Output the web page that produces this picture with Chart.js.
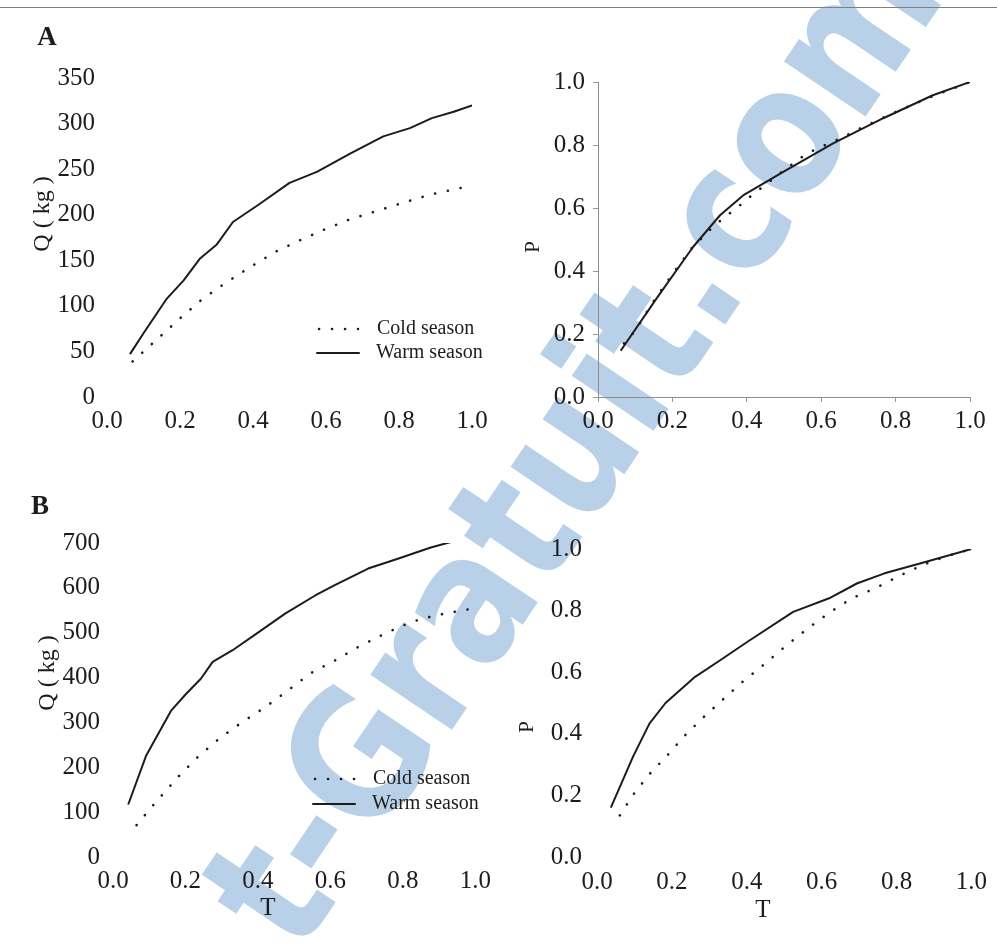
<!DOCTYPE html>
<html>
<head>
<meta charset="utf-8">
<script src="https://cdn.jsdelivr.net/npm/chart.js@4.4.1/dist/chart.umd.min.js"></script>
<style>
  body { margin: 0; background: #fff; }
  #wrap { position: relative; width: 997px; height: 943px; overflow: hidden; }
  #rule { position: absolute; left: 0; top: 7px; width: 997px; border-top: 1.5px solid #808080; }
  canvas { position: absolute; }
</style>
</head>
<body>
<div id="wrap">
  <canvas id="wm" width="997" height="943" style="left:0;top:0"></canvas>
  <div id="rule"></div>
  <canvas id="aQ" width="500" height="470" style="left:0;top:0"></canvas>
  <canvas id="aP" width="497" height="470" style="left:500px;top:0"></canvas>
  <canvas id="bQ" width="500" height="473" style="left:0;top:470px"></canvas>
  <canvas id="bP" width="497" height="473" style="left:500px;top:470px"></canvas>
</div>
<script>
// ---- data ----
// A, quantity Q (kg) vs T
const aQWarmT = [0.063, 0.10, 0.164, 0.21, 0.255, 0.30, 0.345, 0.419, 0.50, 0.575, 0.666, 0.757, 0.83, 0.89, 0.95, 1.0];
const aQWarm  = [47, 70, 108, 128, 152, 167, 192, 212, 235, 247, 267, 286, 295, 306, 313, 320];
const aQColdT = [0.07, 0.15, 0.205, 0.263, 0.328, 0.394, 0.46, 0.529, 0.597, 0.666, 0.739, 0.81, 0.885, 1.0];
const aQCold  = [39, 68, 88, 108, 126, 143, 159, 172, 184, 195, 204, 213, 222, 232];
// A, proportion P vs T
const aPWarmT = [0.061, 0.158, 0.256, 0.328, 0.39, 0.498, 0.632, 0.767, 0.9, 1.0];
const aPWarm  = [0.147, 0.314, 0.477, 0.577, 0.64, 0.715, 0.805, 0.885, 0.958, 1.0];
const aPColdT = [0.07, 0.1, 0.15, 0.2, 0.25, 0.3, 0.325, 0.354, 0.384, 0.413, 0.498, 0.527, 0.554, 0.583, 0.619, 0.65, 0.7, 0.8, 0.9, 1.0];
const aPCold  = [0.17, 0.21, 0.305, 0.39, 0.47, 0.53, 0.556, 0.583, 0.611, 0.64, 0.718, 0.743, 0.767, 0.785, 0.804, 0.82, 0.85, 0.905, 0.955, 1.0];
// B, quantity Q (kg) vs T
const bQWarmT = [0.042, 0.092, 0.161, 0.202, 0.243, 0.275, 0.33, 0.403, 0.476, 0.558, 0.612, 0.704, 0.786, 0.877, 1.0];
const bQWarm  = [117, 227, 327, 364, 398, 435, 461, 502, 543, 583, 606, 643, 665, 690, 717];
const bQColdT = [0.065, 0.11, 0.179, 0.234, 0.293, 0.357, 0.42, 0.484, 0.544, 0.612, 0.676, 0.75, 0.823, 0.892, 1.0];
const bQCold  = [71, 115, 178, 223, 264, 301, 334, 372, 409, 438, 468, 498, 524, 539, 555];
// B, proportion P vs T
const bPWarmT = [0.037, 0.096, 0.14, 0.183, 0.262, 0.323, 0.402, 0.524, 0.62, 0.694, 0.768, 0.865, 1.0];
const bPWarm  = [0.16, 0.325, 0.433, 0.5, 0.585, 0.634, 0.699, 0.796, 0.84, 0.888, 0.921, 0.954, 1.0];
const bPColdT = [0.061, 0.081, 0.1, 0.14, 0.188, 0.231, 0.281, 0.334, 0.389, 0.444, 0.502, 0.563, 0.624, 0.681, 0.742, 0.803, 0.869, 0.93, 1.0];
const bPCold  = [0.135, 0.173, 0.208, 0.269, 0.33, 0.39, 0.45, 0.509, 0.569, 0.623, 0.683, 0.742, 0.796, 0.84, 0.872, 0.91, 0.948, 0.975, 1.0];

const seriesNames = ['Cold season', 'Warm season'];
const tTicks = [0, 0.2, 0.4, 0.6, 0.8, 1.0];
const qTicksA = [0, 50, 100, 150, 200, 250, 300, 350];
const qTicksB = [0, 100, 200, 300, 400, 500, 600, 700];
const pTicks = [0, 0.2, 0.4, 0.6, 0.8, 1.0];

const INK = '#1c1c1c';
const SERIF = '"Liberation Serif", "Times New Roman", serif';
const DOTS = [0.1, 12.9];

// watermark of the scanned page, behind the charts
(function () {
  const ctx = document.getElementById('wm').getContext('2d');
  ctx.save();
  ctx.translate(298, 958);
  ctx.rotate(-56 * Math.PI / 180);
  ctx.scale(0.85, 1);
  ctx.font = 'bold 180px "DejaVu Sans", sans-serif';
  ctx.fillStyle = '#b9d0e9';
  ctx.textBaseline = 'alphabetic';
  ctx.fillText('t-Gratuit.com', 0, 0);
  ctx.restore();
})();

const pts = (xs, ys) => xs.map((x, i) => ({ x: x, y: ys[i] }));

// free text + hand-made legend drawn on top of each chart
const extras = {
  id: 'extras',
  afterDraw(chart, args, o) {
    const ctx = chart.ctx;
    ctx.save();
    (o.texts || []).forEach(t => {
      ctx.save();
      ctx.translate(t.x, t.y);
      if (t.rot) ctx.rotate(t.rot);
      ctx.font = t.font;
      ctx.fillStyle = INK;
      ctx.textAlign = 'center';
      ctx.textBaseline = 'middle';
      ctx.fillText(t.text, 0, 0);
      ctx.restore();
    });
    (o.legend || []).forEach((l, i) => {
      ctx.beginPath();
      ctx.strokeStyle = INK;
      ctx.lineCap = 'round';
      ctx.lineWidth = i === 0 ? 2.6 : 2;
      ctx.setLineDash(i === 0 ? DOTS : []);
      ctx.moveTo(l.x1, l.y);
      ctx.lineTo(l.x2, l.y);
      ctx.stroke();
      ctx.setLineDash([]);
      ctx.font = '20px ' + SERIF;
      ctx.fillStyle = INK;
      ctx.textAlign = 'left';
      ctx.textBaseline = 'middle';
      ctx.fillText(seriesNames[i], l.tx, l.y);
    });
    ctx.restore();
  }
};

function panel(id, p) {
  const cv = document.getElementById(id);
  const axisGrid = p.axes
    ? { display: true, drawOnChartArea: false, drawTicks: true, tickLength: 5, color: '#9a9a9a' }
    : { display: false, drawTicks: false };
  const axisBorder = p.axes ? { display: true, color: '#8c8c8c', width: 1 } : { display: false };
  new Chart(cv, {
    type: 'scatter',
    data: {
      datasets: [
        { label: seriesNames[0], data: pts(p.coldT, p.cold), showLine: true, borderColor: INK,
          borderWidth: 2.6, borderDash: DOTS, borderCapStyle: 'round', pointRadius: 0, tension: 0 },
        { label: seriesNames[1], data: pts(p.warmT, p.warm), showLine: true, borderColor: INK,
          borderWidth: 2, pointRadius: 0, tension: 0, borderJoinStyle: 'round' }
      ]
    },
    options: {
      responsive: false,
      animation: false,
      devicePixelRatio: 1,
      layout: { padding: { left: 0, top: p.area[2], right: cv.width - p.area[1], bottom: 0 } },
      plugins: { legend: { display: false }, tooltip: { enabled: false }, extras: p.extras },
      scales: {
        x: {
          type: 'linear', min: 0, max: 1,
          afterBuildTicks: s => { s.ticks = tTicks.map(v => ({ value: v })); },
          afterFit: s => { s.height = cv.height - p.area[3]; },
          grid: axisGrid, border: axisBorder,
          ticks: { padding: p.xPad, color: INK, font: { family: SERIF, size: 25 },
                   callback: v => v.toFixed(1) }
        },
        y: {
          type: 'linear', min: 0, max: p.yMax,
          afterBuildTicks: s => { s.ticks = p.yTicks.map(v => ({ value: v })); },
          afterFit: s => { s.width = p.area[0]; },
          grid: axisGrid, border: axisBorder,
          ticks: { padding: p.yPad, color: INK, font: { family: SERIF, size: 25 },
                   callback: v => p.yFmt(v) }
        }
      }
    },
    plugins: [extras]
  });
}

const intFmt = v => String(Math.round(v));
const decFmt = v => v.toFixed(1);

panel('aQ', {
  area: [107, 472, 78, 397], axes: false, xPad: 9, yPad: 12,
  yMax: 350, yTicks: qTicksA, yFmt: intFmt,
  coldT: aQColdT, cold: aQCold, warmT: aQWarmT, warm: aQWarm,
  extras: {
    texts: [
      { text: 'A', x: 47, y: 38, font: 'bold 27px ' + SERIF },
      { text: 'Q ( kg )', x: 43, y: 214, rot: -Math.PI / 2, font: '24px ' + SERIF }
    ],
    legend: [ { x1: 319, x2: 358, tx: 377, y: 329 }, { x1: 317, x2: 359, tx: 376, y: 353 } ]
  }
});

panel('aP', {
  area: [98, 470, 82, 397], axes: true, xPad: 4, yPad: 8,
  yMax: 1, yTicks: pTicks, yFmt: decFmt,
  coldT: aPColdT, cold: aPCold, warmT: aPWarmT, warm: aPWarm,
  extras: { texts: [ { text: 'P', x: 33, y: 247, rot: -Math.PI / 2, font: '21px ' + SERIF } ] }
});

panel('bQ', {
  area: [113, 478, 73, 387], axes: false, xPad: 9, yPad: 13,
  yMax: 700, yTicks: qTicksB, yFmt: intFmt,
  coldT: bQColdT, cold: bQCold, warmT: bQWarmT, warm: bQWarm,
  extras: {
    texts: [
      { text: 'B', x: 40, y: 37, font: 'bold 27px ' + SERIF },
      { text: 'Q ( kg )', x: 48, y: 203, rot: -Math.PI / 2, font: '24px ' + SERIF },
      { text: 'T', x: 268, y: 438, font: '25px ' + SERIF }
    ],
    legend: [ { x1: 315, x2: 357, tx: 373, y: 309 }, { x1: 313, x2: 355, tx: 372, y: 334 } ]
  }
});

panel('bP', {
  area: [97, 478, 79, 387], axes: false, xPad: 10, yPad: 15,
  yMax: 1, yTicks: pTicks, yFmt: decFmt,
  coldT: bPColdT, cold: bPCold, warmT: bPWarmT, warm: bPWarm,
  extras: {
    texts: [
      { text: 'P', x: 27, y: 257, rot: -Math.PI / 2, font: '21px ' + SERIF },
      { text: 'T', x: 263, y: 440, font: '25px ' + SERIF }
    ]
  }
});
</script>
</body>
</html>
